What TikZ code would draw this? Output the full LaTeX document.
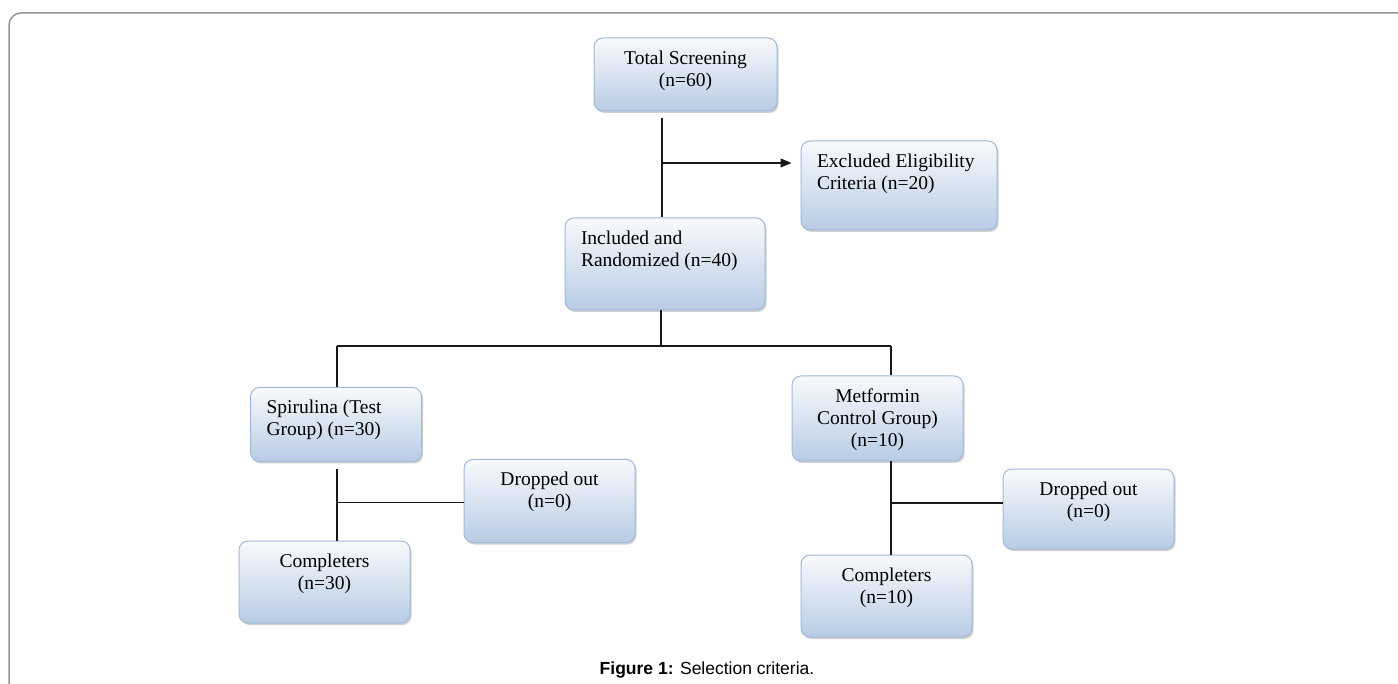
\documentclass[tikz,border=0pt]{standalone}
\usepackage{fontspec}
\setmainfont{Liberation Serif}
\newfontfamily\capfont{Liberation Sans}
\usetikzlibrary{arrows.meta,shadows}
\definecolor{boxtop}{RGB}{248,250,253}
\definecolor{boxbot}{RGB}{184,204,228}
\definecolor{boxedge}{RGB}{160,186,218}
\definecolor{framegray}{RGB}{150,150,150}
\definecolor{linecol}{RGB}{25,25,25}
\newcommand{\bxc}[3]{\parbox[c][#2][t]{#1}{\centering\rule{0pt}{26.5pt}#3}}
\newcommand{\bxl}[3]{\parbox[c][#2][t]{#1}{\raggedright\leftskip=16pt\rule{0pt}{26.5pt}#3}}
\tikzset{
  flowbox/.style={rounded corners=9pt, draw=boxedge, line width=1pt,
    top color=boxtop, bottom color=boxbot, inner sep=0pt,
    drop shadow={shadow xshift=1.5pt, shadow yshift=-2pt, opacity=0.3, fill=black!60},
    font=\fontsize{19.5}{22}\selectfont},
  conn/.style={draw=linecol, line width=1.2pt},
}
\begin{document}
\begin{tikzpicture}[x=1pt,y=-1pt]
\useasboundingbox (0,0) rectangle (1398,684);
\fill[white] (0,0) rectangle (1398,684);
\draw[framegray, line width=1.5pt, rounded corners=12pt] (9,690) -- (9,13) -- (1400,13);

\node[flowbox] (ts) at (685.5,74.5) {\bxc{183pt}{73pt}{Total Screening\\(n=60)}};
\node[flowbox] (ex) at (899,185.5) {\bxl{196pt}{89pt}{Excluded Eligibility\\Criteria (n=20)}};
\node[flowbox] (inc) at (665,264) {\bxl{200pt}{92pt}{Included and\\Randomized (n=40)}};
\node[flowbox] (sp) at (336,424.5) {\bxl{171pt}{74pt}{Spirulina (Test\\Group) (n=30)}};
\node[flowbox] (d1) at (549.5,501) {\bxc{171pt}{83pt}{Dropped out\\(n=0)}};
\node[flowbox] (c1) at (324.5,582) {\bxc{171pt}{82pt}{Completers\\(n=30)}};
\node[flowbox] (mf) at (877.5,418.5) {\bxc{171pt}{85pt}{Metformin\\Control Group)\\(n=10)}};
\node[flowbox] (d2) at (1088.5,509) {\bxc{171pt}{80pt}{Dropped out\\(n=0)}};
\node[flowbox] (c2) at (886.5,596) {\bxc{171pt}{82pt}{Completers\\(n=10)}};

% top trunk
\coordinate (a1) at (662,118);
\coordinate (a2) at (662,163);
\draw[conn] (a1) -- (a1 |- inc.north);
\draw[conn, -{Triangle[length=11pt,width=9pt]}, shorten >=9pt] (a2) -- (a2 -| ex.west);

% split
\coordinate (b1) at (661,346);
\coordinate (bl) at (337,346);
\coordinate (br) at (891,346);
\draw[conn] (b1 |- inc.south) -- (b1);
\draw[conn] (bl) -- (br);
\draw[conn] (bl) -- (bl |- sp.north);
\draw[conn] (br) -- (br |- mf.north);

% left arm
\coordinate (s0) at (337,469);
\coordinate (s1) at (337,502.5);
\draw[conn] (s0) -- (s0 |- c1.north);
\draw[conn] (s1) -- (s1 -| d1.west);

% right arm
\coordinate (m1) at (891,503);
\draw[conn] (m1 |- mf.south) -- (m1 |- c2.north);
\draw[conn] (m1) -- (m1 -| d2.west);

\node[anchor=base, font=\capfont\fontsize{17.5}{20}\selectfont] (cap) at (707,674) {\textbf{Figure 1:} Selection criteria.};
\end{tikzpicture}
\end{document}
